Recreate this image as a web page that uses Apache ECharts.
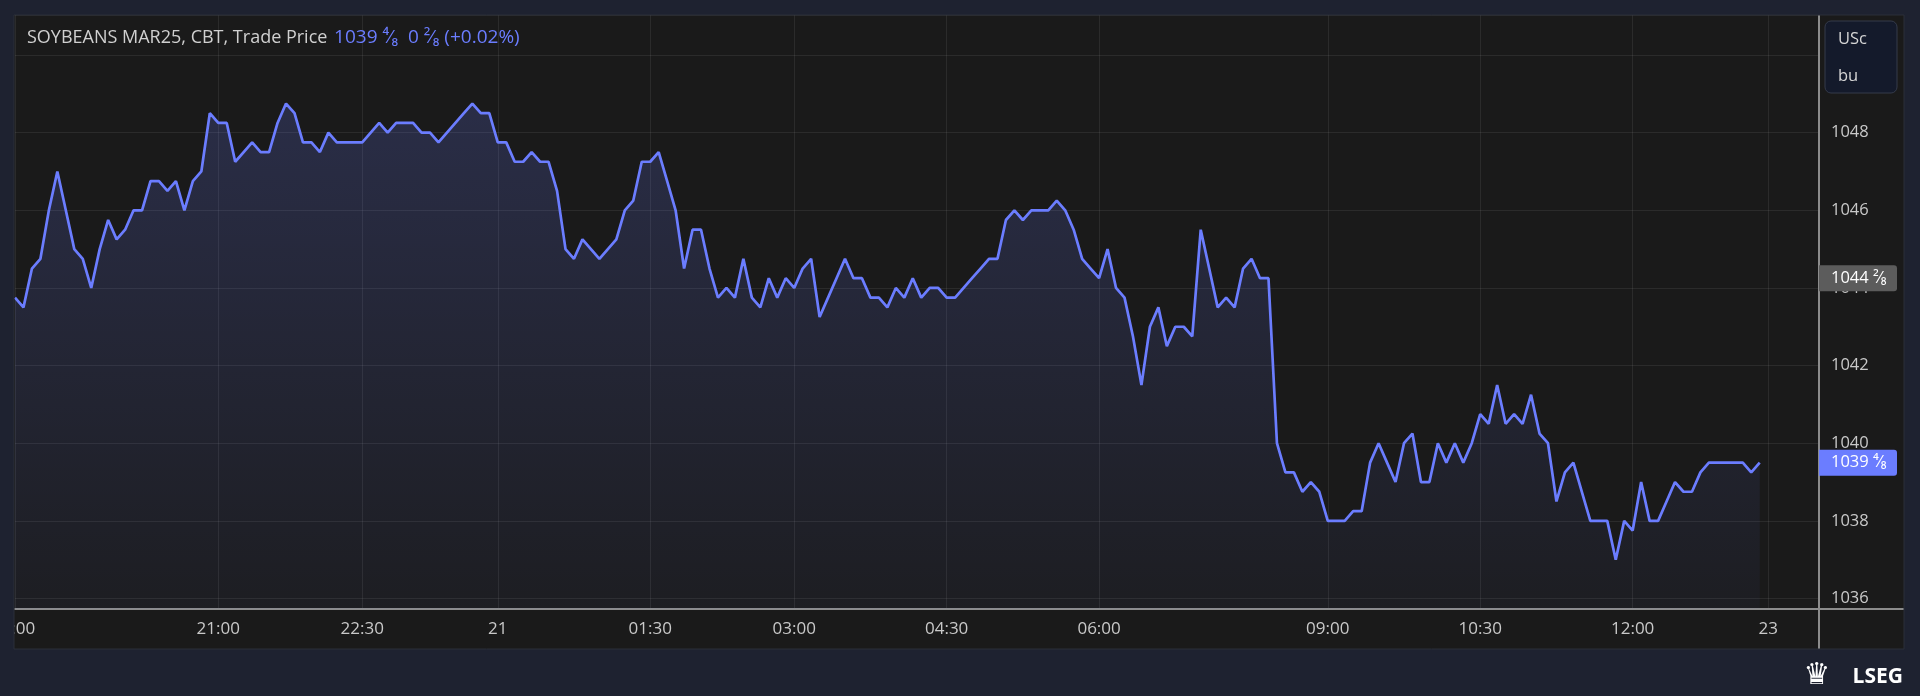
<!DOCTYPE html>
<html><head><meta charset="utf-8">
<script src="https://cdn.jsdelivr.net/npm/echarts@6/dist/echarts.min.js"></script>
<style>html,body{margin:0;padding:0;background:#1e2230;}#c{width:1920px;height:696px;}</style>
</head><body><div id="c"></div>
<script>
// ---- data (5-minute bars, trade price, US cents / bushel) ----
const prices = [
 1043.75,1043.5,1044.5,1044.75,1046,1047,1046,1045,1044.75,1044,
 1045,1045.75,1045.25,1045.5,1046,1046,1046.75,1046.75,1046.5,1046.75,
 1046,1046.75,1047,1048.5,1048.25,1048.25,1047.25,1047.5,1047.75,1047.5,
 1047.5,1048.25,1048.75,1048.5,1047.75,1047.75,1047.5,1048,1047.75,1047.75,
 1047.75,1047.75,1048,1048.25,1048,1048.25,1048.25,1048.25,1048,1048,
 1047.75,1048,1048.25,1048.5,1048.75,1048.5,1048.5,1047.75,1047.75,1047.25,
 1047.25,1047.5,1047.25,1047.25,1046.5,1045,1044.75,1045.25,1045,1044.75,
 1045,1045.25,1046,1046.25,1047.25,1047.25,1047.5,1046.75,1046,1044.5,
 1045.5,1045.5,1044.5,1043.75,1044,1043.75,1044.75,1043.75,1043.5,1044.25,
 1043.75,1044.25,1044,1044.5,1044.75,1043.25,1043.75,1044.25,1044.75,1044.25,
 1044.25,1043.75,1043.75,1043.5,1044,1043.75,1044.25,1043.75,1044,1044,
 1043.75,1043.75,1044,1044.25,1044.5,1044.75,1044.75,1045.75,1046,1045.75,
 1046,1046,1046,1046.25,1046,1045.5,1044.75,1044.5,1044.25,1045,
 1044,1043.75,1042.75,1041.5,1043,1043.5,1042.5,1043,1043,1042.75,
 1045.5,1044.5,1043.5,1043.75,1043.5,1044.5,1044.75,1044.25,1044.25,1040,
 1039.25,1039.25,1038.75,1039,1038.75,1038,1038,1038,1038.25,1038.25,
 1039.5,1040,1039.5,1039,1040,1040.25,1039,1039,1040,1039.5,
 1040,1039.5,1040,1040.75,1040.5,1041.5,1040.5,1040.75,1040.5,1041.25,
 1040.25,1040,1038.5,1039.25,1039.5,1038.75,1038,1038,1038,1037,
 1038,1037.75,1039,1038,1038,1038.5,1039,1038.75,1038.75,1039.25,
 1039.5,1039.5,1039.5,1039.5,1039.5,1039.25,1039.5
];
const slotCount = 214;              // bar slots on the x axis (incl. empty right margin)
const tickIndex  = [0, 24, 41, 57, 75, 92, 110, 128, 155, 173, 191, 207];
const tickLabels = ["19:00","21:00","22:30","21","01:30","03:00","04:30","06:00","09:00","10:30","12:00","23"];
const titleName  = "SOYBEANS MAR25, CBT, Trade Price";
const titleQuote = "1039 \u2074\u2044\u2088  0 \u00B2\u2044\u2088 (+0.02%)";
const lastValue = 1039.5,  lastLabel = "1039 \u2074\u2044\u2088";
const refValue  = 1044.25, refLabel  = "1044 \u00B2\u2044\u2088";
const unitLines = ["USc", "bu"];
const yMin = 1035.73, yMax = 1051.03;

const FONT = '"Open Sans", "Noto Sans", sans-serif';
const categories = Array.from({length: slotCount}, (_, i) => String(i));
const isTick = (i) => tickIndex.indexOf(i) >= 0;

const chart = echarts.init(document.getElementById('c'), null, {renderer: 'canvas'});
chart.setOption({
  backgroundColor: '#1a1a1a',
  animation: false,
  grid: {left: 15, right: 101, top: 15, bottom: 87, containLabel: false, outerBoundsMode: 'none'},
  xAxis: {
    type: 'category', data: categories, boundaryGap: false,
    axisLine: {show: true, lineStyle: {color: '#8c8c8c', width: 2}},
    axisTick: {show: false},
    axisLabel: {
      interval: (i) => isTick(i), margin: 12,
      formatter: (v, i) => {
        const k = tickIndex.indexOf(i);
        if (k < 0) return '';
        return k === 0 ? '{f|' + tickLabels[k] + '}' : tickLabels[k];
      },
      rich: {f: {color: '#c9c9c9', fontSize: 17, fontFamily: FONT, padding: [0, 3, 0, 0]}},
      color: '#c9c9c9', fontSize: 17, fontFamily: FONT
    },
    splitLine: {show: true, interval: (i) => isTick(i), lineStyle: {color: 'rgba(255,255,255,0.075)', width: 1}}
  },
  yAxis: {
    type: 'value', position: 'right', min: yMin, max: yMax,
    splitNumber: 7, minInterval: 2, maxInterval: 2, scale: true,
    axisLine: {show: true, lineStyle: {color: '#8c8c8c', width: 2}},
    axisTick: {show: false},
    axisLabel: {
      showMinLabel: false, showMaxLabel: false, margin: 12,
      formatter: (v) => String(v), color: '#c9c9c9', fontSize: 16.5, fontFamily: FONT
    },
    splitLine: {show: true, lineStyle: {color: 'rgba(255,255,255,0.075)', width: 1}}
  },
  series: [{
    type: 'line', data: prices, showSymbol: false, symbol: 'none',
    lineStyle: {color: '#6b7dff', width: 2.7},
    areaStyle: {
      origin: 'start',
      color: new echarts.graphic.LinearGradient(0, 15, 0, 609, [
        {offset: 0, color: 'rgba(106,124,255,0.32)'},
        {offset: 1, color: 'rgba(106,124,255,0.05)'}
      ], true)
    }
  }]
});

const yLast = chart.convertToPixel({yAxisIndex: 0}, lastValue);
const yRef  = chart.convertToPixel({yAxisIndex: 0}, refValue);
const axisX = 1819;

chart.setOption({
  graphic: {elements: [
    // outer frame strips
    {type: 'rect', z: 100, shape: {x: 0, y: 0, width: 1920, height: 15}, style: {fill: '#1e2230'}},
    {type: 'rect', z: 100, shape: {x: 0, y: 0, width: 14, height: 696}, style: {fill: '#1e2230'}},
    {type: 'rect', z: 100, shape: {x: 1904, y: 0, width: 16, height: 696}, style: {fill: '#1e2230'}},
    {type: 'rect', z: 100, shape: {x: 0, y: 649, width: 1920, height: 47}, style: {fill: '#1e2230'}},
    {type: 'rect', z: 101, shape: {x: 14, y: 15, width: 1890, height: 634}, style: {fill: 'none', stroke: '#2a2e39', lineWidth: 1}},
    // axis line extensions
    {type: 'line', z: 50, shape: {x1: axisX, y1: 609, x2: 1904, y2: 609}, style: {stroke: '#8c8c8c', lineWidth: 2}},
    {type: 'line', z: 50, shape: {x1: axisX, y1: 609, x2: axisX, y2: 649}, style: {stroke: '#8c8c8c', lineWidth: 2}},
    // title
    {type: 'text', z: 60, x: 27, y: 38, style: {
      text: '{a|' + titleName + '}  {b|' + titleQuote + '}',
      verticalAlign: 'middle',
      rich: {
        a: {fill: '#d0d0d0', fontSize: 18, fontFamily: FONT},
        b: {fill: '#6b7dff', fontSize: 19, fontFamily: FONT}
      }
    }},
    // unit box
    {type: 'rect', z: 60, shape: {x: 1825, y: 21, width: 72, height: 72, r: 6}, style: {fill: '#141a2b', stroke: '#343a4a', lineWidth: 1}},
    {type: 'text', z: 61, x: 1838, y: 39, style: {text: unitLines[0], fill: '#d6d6d6', fontSize: 16.5, fontFamily: FONT, verticalAlign: 'middle'}},
    {type: 'text', z: 61, x: 1838, y: 76, style: {text: unitLines[1], fill: '#d6d6d6', fontSize: 16.5, fontFamily: FONT, verticalAlign: 'middle'}},
    // reference price tag
    {type: 'rect', z: 60, shape: {x: axisX, y: yRef - 13, width: 78, height: 26, r: [0, 3, 3, 0]}, style: {fill: '#5c5c5c'}},
    {type: 'text', z: 61, x: 1831, y: yRef, style: {text: refLabel, fill: '#ffffff', fontSize: 16.5, fontFamily: FONT, verticalAlign: 'middle'}},
    // last price tag
    {type: 'rect', z: 60, shape: {x: axisX, y: yLast - 13, width: 78, height: 26, r: [0, 3, 3, 0]}, style: {fill: '#6b7dff'}},
    {type: 'text', z: 61, x: 1831, y: yLast, style: {text: lastLabel, fill: '#ffffff', fontSize: 16.5, fontFamily: FONT, verticalAlign: 'middle'}},
    // brand
    {type: 'text', z: 110, x: 1903, y: 677, style: {text: 'LSEG', fill: '#ffffff', fontSize: 21, fontWeight: 'bold', fontFamily: FONT, align: 'right', verticalAlign: 'middle'}},
    {type: 'text', z: 110, x: 1817, y: 676, style: {text: '\u265B', fill: '#ffffff', fontSize: 30, fontFamily: '"DejaVu Sans"', align: 'center', verticalAlign: 'middle'}}
  ]}
});
</script>
</body></html>
